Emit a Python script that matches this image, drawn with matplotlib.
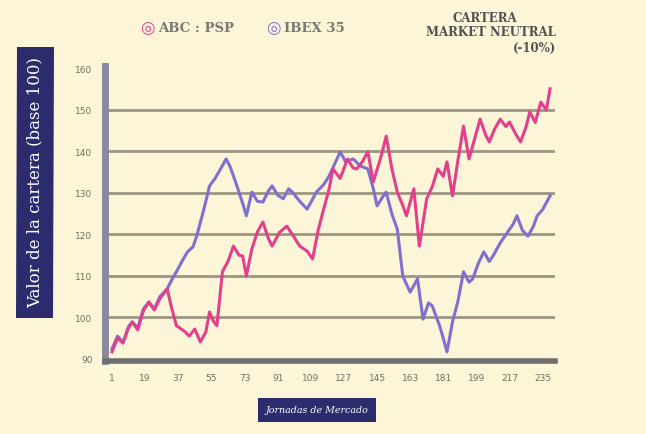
import numpy as np
import matplotlib.pyplot as plt

# --- data (trading day, portfolio value) ---
pink_days = [1, 4, 7, 10, 12, 15, 18, 21, 24, 27, 31, 33, 36, 40, 43, 46, 49, 52, 54, 56, 58,
             61, 64, 67, 70, 72, 74, 77, 80, 83, 86, 88, 92, 96, 100, 103, 107, 110, 113, 116,
             119, 121, 125, 129, 132, 134, 137, 140, 143, 147, 150, 153, 156, 159, 161, 165,
             168, 172, 175, 178, 181, 183, 186, 189, 192, 195, 198, 201, 204, 206, 209, 212,
             215, 217, 220, 223, 226, 228, 231, 234, 237, 239]
pink_vals = [91.7, 95.0, 93.8, 97.5, 98.9, 97.0, 101.5, 103.7, 101.8, 104.5, 106.9, 103.0,
             98.0, 96.8, 95.5, 97.2, 94.1, 96.5, 101.3, 99.2, 98.0, 111.0, 113.5, 117.2, 115.0,
             114.8, 110.0, 116.5, 120.6, 123.0, 119.0, 117.2, 120.5, 122.0, 119.3, 117.2, 116.0,
             114.1, 121.0, 126.1, 131.0, 135.8, 133.5, 138.2, 136.0, 135.8, 137.5, 139.9, 132.7,
             138.5, 143.7, 136.0, 130.2, 127.0, 124.5, 131.0, 117.2, 128.6, 131.5, 135.8, 134.0,
             137.5, 129.3, 138.0, 146.1, 138.2, 143.0, 147.8, 144.0, 142.3, 145.5, 147.8, 146.0,
             147.1, 144.5, 142.3, 146.0, 149.5, 147.0, 151.9, 150.0, 155.1]

purple_days = [1, 4, 7, 10, 12, 15, 18, 21, 24, 27, 31, 34, 36, 39, 42, 45, 47, 50, 52, 54, 57,
               60, 63, 65, 67, 70, 72, 74, 77, 80, 83, 86, 88, 91, 94, 97, 99, 103, 107, 110,
               112, 116, 119, 122, 125, 128, 132, 136, 140, 143, 145, 148, 150, 153, 156, 159,
               161, 163, 167, 170, 173, 175, 179, 181, 183, 186, 189, 192, 195, 197, 200, 203,
               206, 208, 212, 216, 219, 221, 224, 227, 230, 232, 235, 239]
purple_vals = [92.4, 95.5, 94.0, 97.8, 98.9, 97.5, 102.0, 103.7, 102.0, 105.0, 106.9, 109.5,
               111.0, 113.5, 115.8, 117.0, 119.6, 124.5, 128.0, 131.7, 133.5, 135.8, 138.2,
               136.5, 134.1, 130.2, 127.5, 124.5, 130.2, 128.0, 127.8, 130.5, 131.7, 129.5,
               128.6, 131.0, 130.2, 128.0, 126.1, 128.5, 130.2, 132.0, 134.1, 137.0, 139.9,
               137.5, 138.2, 136.5, 135.8, 131.0, 126.9, 129.0, 130.2, 125.0, 121.3, 110.0,
               108.0, 106.1, 109.3, 99.6, 103.5, 102.8, 98.0, 95.0, 91.7, 98.9, 104.0, 111.0,
               108.5, 109.3, 113.0, 115.8, 113.5, 114.8, 118.0, 120.6, 122.5, 124.5, 121.0,
               119.6, 122.0, 124.5, 126.0, 129.3]

x_ticks = [1, 19, 37, 55, 73, 91, 109, 127, 145, 163, 181, 199, 217, 235]
y_ticks = [90, 100, 110, 120, 130, 140, 150, 160]

bg = "#fdf5d7"
pink = "#e2408c"
purple = "#7f6fd0"
navy = "#2b2b6e"

fig = plt.figure(figsize=(6.46, 4.35), dpi=100, facecolor=bg)
ax = fig.add_axes([105 / 646, 1 - 362 / 435, 450 / 646, 295 / 435])
ax.set_facecolor(bg)

# grid lines (intermediate levels only)
for v in y_ticks[1:-1]:
    ax.axhline(v, color="#9c9682", linewidth=2.0, zorder=1)

ax.plot(purple_days, purple_vals, color=purple, linewidth=2.2, zorder=3)
ax.plot(pink_days, pink_vals, color=pink, linewidth=2.2, zorder=4)

ax.set_xlim(-2.8, 241.7)
ax.set_ylim(89.5, 160.6)
ax.set_xticks(x_ticks)
ax.set_yticks(y_ticks)
ax.set_xticklabels([str(t) for t in x_ticks], fontsize=6.5, color="#707060")
ax.set_yticklabels([str(t) for t in y_ticks], fontsize=6.5, color="#707060")
ax.tick_params(length=0, pad=9)

for s in ["top", "right"]:
    ax.spines[s].set_visible(False)
ax.spines["left"].set_color("#8a8a9c")
ax.spines["left"].set_linewidth(5)
ax.spines["bottom"].set_color("#6e6e6e")
ax.spines["bottom"].set_linewidth(4)

# axis titles in dark boxes
fig.text(35 / 646, 1 - 183 / 435, "Valor de la cartera (base 100)", rotation=90,
         ha="center", va="center", color="white", fontsize=12, family="DejaVu Serif",
         bbox=dict(boxstyle="square,pad=0.6", facecolor=navy, edgecolor="none"))
fig.text(317 / 646, 1 - 411 / 435, "Jornadas de Mercado", ha="center", va="center",
         color="white", fontsize=6.8, style="italic", family="DejaVu Serif",
         bbox=dict(boxstyle="square,pad=0.8", facecolor=navy, edgecolor="none"))

# legend at top
fig.text(140 / 646, 1 - 28 / 435, "\u25ce", fontsize=12, color=pink, ha="left", va="center")
fig.text(158 / 646, 1 - 28 / 435, "ABC : PSP", fontsize=9.5, color="#7a7a72",
         ha="left", va="center", family="DejaVu Serif", weight="bold")
fig.text(266 / 646, 1 - 28 / 435, "\u25ce", fontsize=12, color=purple, ha="left", va="center")
fig.text(284 / 646, 1 - 28 / 435, "IBEX 35", fontsize=9.5, color="#7a7a72",
         ha="left", va="center", family="DejaVu Serif", weight="bold")

# title block, top right
title_kw = dict(fontsize=8.5, color="#505050", va="center", family="DejaVu Serif", weight="bold")
fig.text(485 / 646, 1 - 18 / 435, "CARTERA", ha="center", **title_kw)
fig.text(556 / 646, 1 - 33 / 435, "MARKET NEUTRAL", ha="right", **title_kw)
fig.text(556 / 646, 1 - 48 / 435, "(-10%)", ha="right", **title_kw)

fig.savefig("out.png", dpi=100, facecolor=bg)
